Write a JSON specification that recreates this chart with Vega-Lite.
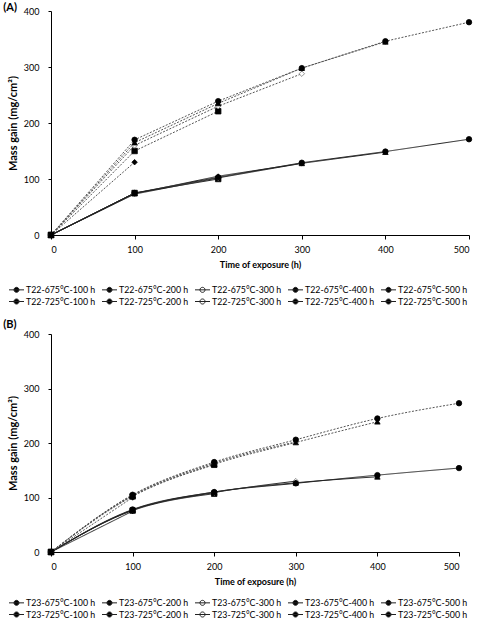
{
  "$schema": "https://vega.github.io/schema/vega-lite/v6.json",
  "padding": {"left": 3, "top": 2, "right": 0, "bottom": 0},
  "config": {
    "view": {"stroke": null},
    "font": "Lato",
    "axis": {
      "domainColor": "#000",
      "domainWidth": 1,
      "grid": false,
      "labelFont": "Lato",
      "labelFontSize": 9,
      "labelColor": "#000",
      "titleFont": "Lato",
      "titleFontSize": 9,
      "titleFontWeight": "bold",
      "titleColor": "#000",
      "tickColor": "#000"
    },
    "axisY": {"titleFontSize": 11},
    "legend": {
      "labelFont": "Lato",
      "labelFontSize": 8.8,
      "labelColor": "#000",
      "labelLimit": 200
    },
    "title": {"font": "Lato", "fontSize": 11, "fontWeight": "bold", "color": "#000"}
  },
  "datasets": {
    "t22": [
      {"series": "T22-675°C-100 h", "dur": "100 h", "temp": "675", "time": 0, "gain": 0},
      {"series": "T22-675°C-100 h", "dur": "100 h", "temp": "675", "time": 100, "gain": 75},
      {"series": "T22-675°C-200 h", "dur": "200 h", "temp": "675", "time": 0, "gain": 0},
      {"series": "T22-675°C-200 h", "dur": "200 h", "temp": "675", "time": 100, "gain": 75},
      {"series": "T22-675°C-200 h", "dur": "200 h", "temp": "675", "time": 200, "gain": 100},
      {"series": "T22-675°C-300 h", "dur": "300 h", "temp": "675", "time": 0, "gain": 0},
      {"series": "T22-675°C-300 h", "dur": "300 h", "temp": "675", "time": 100, "gain": 73},
      {"series": "T22-675°C-300 h", "dur": "300 h", "temp": "675", "time": 200, "gain": 102},
      {"series": "T22-675°C-300 h", "dur": "300 h", "temp": "675", "time": 300, "gain": 128},
      {"series": "T22-675°C-400 h", "dur": "400 h", "temp": "675", "time": 0, "gain": 0},
      {"series": "T22-675°C-400 h", "dur": "400 h", "temp": "675", "time": 100, "gain": 74},
      {"series": "T22-675°C-400 h", "dur": "400 h", "temp": "675", "time": 200, "gain": 105},
      {"series": "T22-675°C-400 h", "dur": "400 h", "temp": "675", "time": 300, "gain": 128},
      {"series": "T22-675°C-400 h", "dur": "400 h", "temp": "675", "time": 400, "gain": 148},
      {"series": "T22-675°C-500 h", "dur": "500 h", "temp": "675", "time": 0, "gain": 0},
      {"series": "T22-675°C-500 h", "dur": "500 h", "temp": "675", "time": 100, "gain": 75},
      {"series": "T22-675°C-500 h", "dur": "500 h", "temp": "675", "time": 200, "gain": 103},
      {"series": "T22-675°C-500 h", "dur": "500 h", "temp": "675", "time": 300, "gain": 129},
      {"series": "T22-675°C-500 h", "dur": "500 h", "temp": "675", "time": 400, "gain": 149},
      {"series": "T22-675°C-500 h", "dur": "500 h", "temp": "675", "time": 500, "gain": 171},
      {"series": "T22-725°C-100 h", "dur": "100 h", "temp": "725", "time": 0, "gain": 0},
      {"series": "T22-725°C-100 h", "dur": "100 h", "temp": "725", "time": 100, "gain": 130},
      {"series": "T22-725°C-200 h", "dur": "200 h", "temp": "725", "time": 0, "gain": 0},
      {"series": "T22-725°C-200 h", "dur": "200 h", "temp": "725", "time": 100, "gain": 150},
      {"series": "T22-725°C-200 h", "dur": "200 h", "temp": "725", "time": 200, "gain": 221},
      {"series": "T22-725°C-300 h", "dur": "300 h", "temp": "725", "time": 0, "gain": 0},
      {"series": "T22-725°C-300 h", "dur": "300 h", "temp": "725", "time": 100, "gain": 160},
      {"series": "T22-725°C-300 h", "dur": "300 h", "temp": "725", "time": 200, "gain": 230},
      {"series": "T22-725°C-300 h", "dur": "300 h", "temp": "725", "time": 300, "gain": 288},
      {"series": "T22-725°C-400 h", "dur": "400 h", "temp": "725", "time": 0, "gain": 0},
      {"series": "T22-725°C-400 h", "dur": "400 h", "temp": "725", "time": 100, "gain": 165},
      {"series": "T22-725°C-400 h", "dur": "400 h", "temp": "725", "time": 200, "gain": 235},
      {"series": "T22-725°C-400 h", "dur": "400 h", "temp": "725", "time": 300, "gain": 298},
      {"series": "T22-725°C-400 h", "dur": "400 h", "temp": "725", "time": 400, "gain": 345},
      {"series": "T22-725°C-500 h", "dur": "500 h", "temp": "725", "time": 0, "gain": 0},
      {"series": "T22-725°C-500 h", "dur": "500 h", "temp": "725", "time": 100, "gain": 170},
      {"series": "T22-725°C-500 h", "dur": "500 h", "temp": "725", "time": 200, "gain": 239},
      {"series": "T22-725°C-500 h", "dur": "500 h", "temp": "725", "time": 300, "gain": 298},
      {"series": "T22-725°C-500 h", "dur": "500 h", "temp": "725", "time": 400, "gain": 346},
      {"series": "T22-725°C-500 h", "dur": "500 h", "temp": "725", "time": 500, "gain": 380}
    ],
    "t23": [
      {"series": "T23-675°C-100 h", "dur": "100 h", "temp": "675", "time": 0, "gain": 0},
      {"series": "T23-675°C-100 h", "dur": "100 h", "temp": "675", "time": 100, "gain": 75},
      {"series": "T23-675°C-200 h", "dur": "200 h", "temp": "675", "time": 0, "gain": 0},
      {"series": "T23-675°C-200 h", "dur": "200 h", "temp": "675", "time": 100, "gain": 76},
      {"series": "T23-675°C-200 h", "dur": "200 h", "temp": "675", "time": 200, "gain": 107},
      {"series": "T23-675°C-300 h", "dur": "300 h", "temp": "675", "time": 0, "gain": 0},
      {"series": "T23-675°C-300 h", "dur": "300 h", "temp": "675", "time": 100, "gain": 77},
      {"series": "T23-675°C-300 h", "dur": "300 h", "temp": "675", "time": 200, "gain": 109},
      {"series": "T23-675°C-300 h", "dur": "300 h", "temp": "675", "time": 300, "gain": 130},
      {"series": "T23-675°C-400 h", "dur": "400 h", "temp": "675", "time": 0, "gain": 0},
      {"series": "T23-675°C-400 h", "dur": "400 h", "temp": "675", "time": 100, "gain": 77},
      {"series": "T23-675°C-400 h", "dur": "400 h", "temp": "675", "time": 200, "gain": 110},
      {"series": "T23-675°C-400 h", "dur": "400 h", "temp": "675", "time": 300, "gain": 127},
      {"series": "T23-675°C-400 h", "dur": "400 h", "temp": "675", "time": 400, "gain": 138},
      {"series": "T23-675°C-500 h", "dur": "500 h", "temp": "675", "time": 0, "gain": 0},
      {"series": "T23-675°C-500 h", "dur": "500 h", "temp": "675", "time": 100, "gain": 78},
      {"series": "T23-675°C-500 h", "dur": "500 h", "temp": "675", "time": 200, "gain": 110},
      {"series": "T23-675°C-500 h", "dur": "500 h", "temp": "675", "time": 300, "gain": 126},
      {"series": "T23-675°C-500 h", "dur": "500 h", "temp": "675", "time": 400, "gain": 141},
      {"series": "T23-675°C-500 h", "dur": "500 h", "temp": "675", "time": 500, "gain": 154},
      {"series": "T23-725°C-100 h", "dur": "100 h", "temp": "725", "time": 0, "gain": 0},
      {"series": "T23-725°C-100 h", "dur": "100 h", "temp": "725", "time": 100, "gain": 100},
      {"series": "T23-725°C-200 h", "dur": "200 h", "temp": "725", "time": 0, "gain": 0},
      {"series": "T23-725°C-200 h", "dur": "200 h", "temp": "725", "time": 100, "gain": 102},
      {"series": "T23-725°C-200 h", "dur": "200 h", "temp": "725", "time": 200, "gain": 160},
      {"series": "T23-725°C-300 h", "dur": "300 h", "temp": "725", "time": 0, "gain": 0},
      {"series": "T23-725°C-300 h", "dur": "300 h", "temp": "725", "time": 100, "gain": 104},
      {"series": "T23-725°C-300 h", "dur": "300 h", "temp": "725", "time": 200, "gain": 163},
      {"series": "T23-725°C-300 h", "dur": "300 h", "temp": "725", "time": 300, "gain": 202},
      {"series": "T23-725°C-400 h", "dur": "400 h", "temp": "725", "time": 0, "gain": 0},
      {"series": "T23-725°C-400 h", "dur": "400 h", "temp": "725", "time": 100, "gain": 103},
      {"series": "T23-725°C-400 h", "dur": "400 h", "temp": "725", "time": 200, "gain": 161},
      {"series": "T23-725°C-400 h", "dur": "400 h", "temp": "725", "time": 300, "gain": 201},
      {"series": "T23-725°C-400 h", "dur": "400 h", "temp": "725", "time": 400, "gain": 239},
      {"series": "T23-725°C-500 h", "dur": "500 h", "temp": "725", "time": 0, "gain": 0},
      {"series": "T23-725°C-500 h", "dur": "500 h", "temp": "725", "time": 100, "gain": 105},
      {"series": "T23-725°C-500 h", "dur": "500 h", "temp": "725", "time": 200, "gain": 165},
      {"series": "T23-725°C-500 h", "dur": "500 h", "temp": "725", "time": 300, "gain": 206},
      {"series": "T23-725°C-500 h", "dur": "500 h", "temp": "725", "time": 400, "gain": 245},
      {"series": "T23-725°C-500 h", "dur": "500 h", "temp": "725", "time": 500, "gain": 273}
    ]
  },
  "spacing": 12,
  "resolve": {
    "scale": {"shape": "independent", "color": "independent", "strokeDash": "independent", "fill": "independent"},
    "legend": {"fill": "independent"}
  },
  "vconcat": [
    {
      "width": 418,
      "height": 224,
      "title": {"text": "(A)", "anchor": "start", "frame": "bounds", "dx": -4, "dy": 10},
      "data": {"name": "t22"},
      "layer": [
        {
          "mark": {"type": "line", "strokeWidth": 1, "interpolate": "linear"},
          "encoding": {
            "x": {"field": "time", "type": "quantitative", "title": "Time of exposure (h)", "scale": {"domain": [0, 500]}, "axis": {"values": [0, 100, 200, 300, 400, 500], "tickSize": 4, "labelPadding": 6, "titlePadding": 6}},
            "y": {"field": "gain", "type": "quantitative", "title": "Mass gain (mg/cm²)", "scale": {"domain": [0, 400]}, "axis": {"values": [0, 50, 100, 150, 200, 250, 300, 350, 400], "tickSize": 3, "labelPadding": 9, "titlePadding": 5}},
            "detail": {"field": "series"},
            "color": {"field": "temp", "type": "nominal", "scale": {"domain": ["675", "725"], "range": ["#222222", "#555555"]}, "legend": null},
            "strokeDash": {"field": "temp", "type": "nominal", "scale": {"domain": ["675", "725"], "range": [[1, 0], [2, 1.5]]}, "legend": null}
          }
        },
        {
          "mark": {"type": "point", "filled": true, "size": 30, "strokeWidth": 0.8, "opacity": 1, "shape": "M-1.25,0H1.25M-0.42,0A0.42,0.42,0,1,0,0.42,0A0.42,0.42,0,1,0,-0.42,0Z"},
          "encoding": {
            "x": {"field": "time", "type": "quantitative"},
            "y": {"field": "gain", "type": "quantitative"},
            "stroke": {"condition": {"test": "datum.dur === '300 h'", "value": "#777777"}, "value": "#000000"},
            "shape": {
              "field": "dur",
              "type": "nominal",
              "scale": {"domain": ["100 h", "200 h", "300 h", "400 h", "500 h"], "range": ["diamond", "square", "diamond", "triangle-up", "circle"]},
              "legend": null
            },
            "fill": {
              "field": "series",
              "type": "nominal",
              "scale": {
                "domain": ["T22-675°C-100 h", "T22-675°C-200 h", "T22-675°C-300 h", "T22-675°C-400 h", "T22-675°C-500 h", "T22-725°C-100 h", "T22-725°C-200 h", "T22-725°C-300 h", "T22-725°C-400 h", "T22-725°C-500 h"],
                "range": ["#000000", "#000000", "#ffffff", "#000000", "#000000", "#000000", "#000000", "#ffffff", "#000000", "#000000"]
              },
              "legend": {
                "title": null,
                "orient": "none",
                "legendX": -41,
                "legendY": 272,
                "direction": "horizontal",
                "columns": 5,
                "symbolSize": 144,
                "symbolType": "M-1.25,0H1.25M-0.42,0A0.42,0.42,0,1,0,0.42,0A0.42,0.42,0,1,0,-0.42,0Z",
                "symbolStrokeColor": "#222222",
                "symbolStrokeWidth": 1,
                "columnPadding": 4,
                "rowPadding": 0,
                "labelOffset": 3
              }
            }
          }
        }
      ]
    },
    {
      "width": 408,
      "height": 218,
      "title": {"text": "(B)", "anchor": "start", "frame": "bounds", "dx": -4, "offset": 0},
      "data": {"name": "t23"},
      "layer": [
        {
          "mark": {"type": "line", "strokeWidth": 1, "interpolate": "monotone"},
          "encoding": {
            "x": {"field": "time", "type": "quantitative", "title": "Time of exposure (h)", "scale": {"domain": [0, 500]}, "axis": {"values": [0, 100, 200, 300, 400, 500], "tickSize": 4, "labelPadding": 6, "titlePadding": 6}},
            "y": {"field": "gain", "type": "quantitative", "title": "Mass gain (mg/cm²)", "scale": {"domain": [0, 400]}, "axis": {"values": [0, 50, 100, 150, 200, 250, 300, 350, 400], "tickSize": 3, "labelPadding": 9, "titlePadding": 5}},
            "detail": {"field": "series"},
            "color": {"field": "temp", "type": "nominal", "scale": {"domain": ["675", "725"], "range": ["#222222", "#555555"]}, "legend": null},
            "strokeDash": {"field": "temp", "type": "nominal", "scale": {"domain": ["675", "725"], "range": [[1, 0], [2, 1.5]]}, "legend": null}
          }
        },
        {
          "mark": {"type": "point", "filled": true, "size": 30, "strokeWidth": 0.8, "opacity": 1, "shape": "M-1.25,0H1.25M-0.42,0A0.42,0.42,0,1,0,0.42,0A0.42,0.42,0,1,0,-0.42,0Z"},
          "encoding": {
            "x": {"field": "time", "type": "quantitative"},
            "y": {"field": "gain", "type": "quantitative"},
            "stroke": {"condition": {"test": "datum.dur === '300 h'", "value": "#777777"}, "value": "#000000"},
            "shape": {
              "field": "dur",
              "type": "nominal",
              "scale": {"domain": ["100 h", "200 h", "300 h", "400 h", "500 h"], "range": ["diamond", "square", "diamond", "triangle-up", "circle"]},
              "legend": null
            },
            "fill": {
              "field": "series",
              "type": "nominal",
              "scale": {
                "domain": ["T23-675°C-100 h", "T23-675°C-200 h", "T23-675°C-300 h", "T23-675°C-400 h", "T23-675°C-500 h", "T23-725°C-100 h", "T23-725°C-200 h", "T23-725°C-300 h", "T23-725°C-400 h", "T23-725°C-500 h"],
                "range": ["#000000", "#000000", "#ffffff", "#000000", "#000000", "#000000", "#000000", "#ffffff", "#000000", "#000000"]
              },
              "legend": {
                "title": null,
                "orient": "none",
                "legendX": -41,
                "legendY": 262,
                "direction": "horizontal",
                "columns": 5,
                "symbolSize": 144,
                "symbolType": "M-1.25,0H1.25M-0.42,0A0.42,0.42,0,1,0,0.42,0A0.42,0.42,0,1,0,-0.42,0Z",
                "symbolStrokeColor": "#222222",
                "symbolStrokeWidth": 1,
                "columnPadding": 4,
                "rowPadding": 0,
                "labelOffset": 3
              }
            }
          }
        }
      ]
    }
  ]
}
